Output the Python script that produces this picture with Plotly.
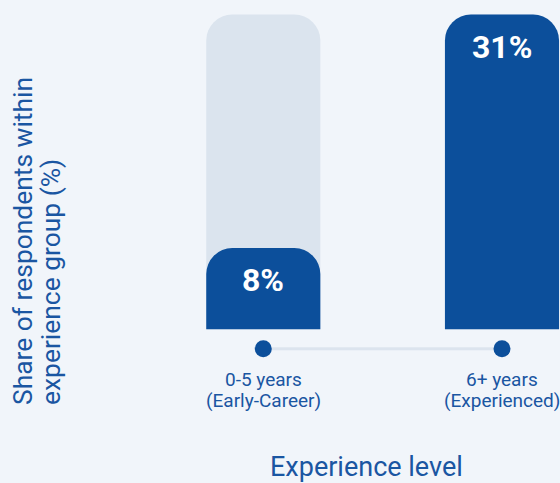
import plotly.graph_objects as go

# Share of respondents by experience group
categories = ["0-5 years", "6+ years"]
subtitles = ["(Early-Career)", "(Experienced)"]
shares = [8, 31]

BLUE = "#0c4f9b"
TEXT_BLUE = "#1a56a2"
TRACK = "#dbe4ee"
BG = "#f1f5fa"
FONT = "Roboto"

track_value = max(shares)
row_y = -1.92  # level of the dot row below the bars
Y_RANGE = [-15.135, 32.43]
X_RANGE = [-1.103, 1.243]

fig = go.Figure()

# background "track" bars at the maximum share
fig.add_trace(go.Bar(
    x=categories, y=[track_value] * len(categories),
    marker=dict(color=TRACK, line=dict(width=0), cornerradius=26),
    width=0.478, hoverinfo="skip", showlegend=False,
))

# connector row with dots under each category
fig.add_trace(go.Scatter(
    x=categories, y=[row_y] * len(categories),
    mode="lines+markers",
    line=dict(color="#dce4ee", width=3),
    marker=dict(color=BLUE, size=17),
    hoverinfo="skip", showlegend=False,
))

# actual shares, on an overlaid axis pair so they sit above the tracks
fig.add_trace(go.Bar(
    x=categories, y=shares,
    marker=dict(color=BLUE, line=dict(width=0), cornerradius=26),
    width=0.478, showlegend=False,
    xaxis="x2", yaxis="y2",
))

annotations = []
for cat, sub, val in zip(categories, subtitles, shares):
    annotations.append(dict(
        x=cat, y=val, xref="x", yref="y", text=f"<b>{val}%</b>",
        showarrow=False, yshift=-32,
        font=dict(family=FONT, size=32, color="white"),
    ))
    annotations.append(dict(
        x=cat, y=0, xref="x", yref="y", text=cat,
        showarrow=False, yshift=-50,
        font=dict(family=FONT, size=19, color=TEXT_BLUE),
    ))
    annotations.append(dict(
        x=cat, y=0, xref="x", yref="y", text=sub,
        showarrow=False, yshift=-71,
        font=dict(family=FONT, size=19, color=TEXT_BLUE),
    ))

# axis titles
annotations.append(dict(
    x=366.5 / 560, y=0, xref="paper", yref="paper",
    xanchor="center", yanchor="bottom", yshift=-2,
    text="Experience level", showarrow=False,
    font=dict(family=FONT, size=27, color=TEXT_BLUE),
))
annotations.append(dict(
    x=23 / 560, y=(483 - 407) / 483, xref="paper", yref="paper",
    xanchor="center", yanchor="bottom", textangle=-90,
    text="Share of respondents within", showarrow=False,
    font=dict(family=FONT, size=26.4, color=TEXT_BLUE),
))
annotations.append(dict(
    x=51 / 560, y=(483 - 407) / 483, xref="paper", yref="paper",
    xanchor="center", yanchor="bottom", textangle=-90,
    text="experience group (%)", showarrow=False,
    font=dict(family=FONT, size=26.4, color=TEXT_BLUE),
))

axis_common = dict(showticklabels=False, showgrid=False, zeroline=False,
                   showline=False, fixedrange=True)

fig.update_layout(
    width=560, height=483,
    margin=dict(l=0, r=0, t=0, b=0),
    paper_bgcolor=BG, plot_bgcolor=BG,
    font=dict(family=FONT, color=TEXT_BLUE),
    annotations=annotations,
    xaxis=dict(range=X_RANGE, **axis_common),
    yaxis=dict(range=Y_RANGE, **axis_common),
    xaxis2=dict(range=X_RANGE, overlaying="x", **axis_common),
    yaxis2=dict(range=Y_RANGE, overlaying="y", **axis_common),
)

fig.write_html("out.html")
